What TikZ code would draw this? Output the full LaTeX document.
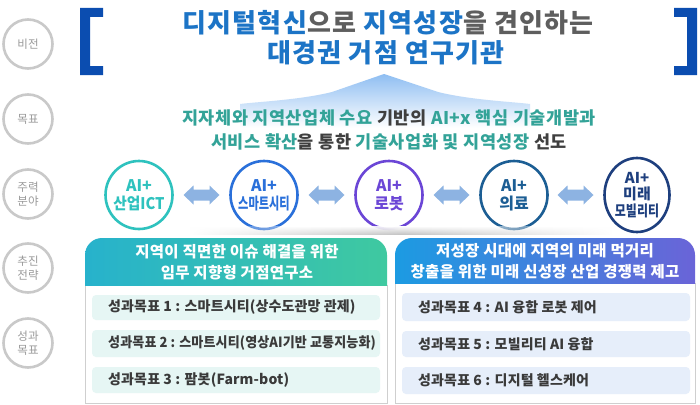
\documentclass[tikz,border=0pt]{standalone}
\usepackage{fontspec}
\setmainfont{Noto Sans CJK KR}
\usetikzlibrary{shapes.geometric,fadings,calc}
\definecolor{tblue}{HTML}{1C74C6}
\definecolor{tgray}{HTML}{5E5E5E}
\definecolor{brk}{HTML}{0B4DB0}
\definecolor{teal}{HTML}{33A398}
\definecolor{dark}{HTML}{3F3F3F}
\definecolor{cA}{HTML}{2EC2BE}
\definecolor{cB}{HTML}{2A70DA}
\definecolor{cC}{HTML}{6B46D6}
\definecolor{cD}{HTML}{1C5E94}
\definecolor{cE}{HTML}{1E3F7E}
\definecolor{arrowblue}{HTML}{8DB3E2}
\definecolor{sidegray}{HTML}{C9C9C9}
\definecolor{sidetext}{HTML}{9A9A9A}
\definecolor{hAL}{HTML}{27B2CC}
\definecolor{hAR}{HTML}{3FC9A0}
\definecolor{hBL}{HTML}{1C9BE2}
\definecolor{hBR}{HTML}{6A64D8}
\definecolor{itemA}{HTML}{E6F6F4}
\definecolor{itemB}{HTML}{E6EEFA}
\definecolor{bodyline}{HTML}{CFCFCF}
\definecolor{itemtext}{HTML}{3A3A3A}
\definecolor{uparrow}{HTML}{8FBEF2}
\tikzfading[name=fadesides, left color=transparent!100, right color=transparent!100, middle color=transparent!0]
\begin{document}
\begin{tikzpicture}[x=1pt,y=-1pt,
  sidecirc/.style={draw=sidegray, line width=2.6pt, circle, minimum size=49pt, inner sep=0pt,
    font=\fontsize{11.5}{13.5}\selectfont, text=sidetext, align=center},
  fieldc/.style={ellipse, line width=2.6pt, minimum width=67pt, minimum height=68pt, inner sep=0pt},
  fieldt/.style={align=center, inner sep=0pt, font=\fontsize{16}{18}\selectfont\bfseries},
  dblarrow/.pic={\fill[arrowblue] (-18,0) -- (-8,-9.5) -- (-8,-5.5) -- (8,-5.5) -- (8,-9.5) -- (18,0)
      -- (8,9.5) -- (8,5.5) -- (-8,5.5) -- (-8,9.5) -- cycle;},
  hdrtext/.style={text=white, font=\fontsize{15.5}{20.5}\selectfont\bfseries\addfontfeature{LetterSpace=2}, align=center},
  itemtxt/.style={anchor=west, text=itemtext, font=\fontsize{14}{16}\selectfont\bfseries\addfontfeature{LetterSpace=1}, inner sep=0pt}
]
\useasboundingbox (0,0) rectangle (700,404);
\fill[white] (0,0) rectangle (700,404);

% left column circles
\node[sidecirc] (s1) at (28,44) {비전};
\node[sidecirc] (s2) at (28,119) {목표};
\node[sidecirc] (s3) at (28,194) {주력\\분야};
\node[sidecirc] (s4) at (28,268) {추진\\전략};
\node[sidecirc] (s5) at (28,343) {성과\\목표};

% brackets
\fill[brk] (80,8) -- (103,8) -- (103,17) -- (90,17) -- (90,66) -- (103,66) -- (103,75) -- (80,75) -- cycle;
\fill[brk] (697,8) -- (674,8) -- (674,17) -- (687,17) -- (687,66) -- (674,66) -- (674,75) -- (697,75) -- cycle;

% upward arrow
\shade[top color=uparrow, bottom color=white]
  (384,74) -- (438,92) .. controls (470,100) and (515,102) .. (530,104) -- (530,128) -- (240,128) -- (240,104)
  .. controls (255,102) and (300,100) .. (332,92) -- cycle;

% title
\node[font=\fontsize{26}{30}\selectfont\bfseries\addfontfeature{LetterSpace=5}, inner sep=0pt] (t1) at (388,23)
  {\textcolor{tblue}{디지털혁신}\textcolor{tgray}{으로} \textcolor{tblue}{지역성장}\textcolor{tgray}{을 견인하는}};
\node[font=\fontsize{26}{30}\selectfont\bfseries\addfontfeature{LetterSpace=5}, inner sep=0pt, text=tblue] (t2) at (386,53)
  {대경권 거점 연구기관};

% goal text
\node[font=\fontsize{17.5}{20}\selectfont\bfseries\addfontfeature{LetterSpace=3}, inner sep=0pt] (g1) at (389,118)
  {\textcolor{teal}{지자체와 지역산업체 수요} \textcolor{dark}{기반의} \textcolor{teal}{AI+x 핵심 기술개발과}};
\node[font=\fontsize{17.5}{20}\selectfont\bfseries\addfontfeature{LetterSpace=3}, inner sep=0pt] (g2) at (389,142)
  {\textcolor{teal}{서비스 확산}\textcolor{dark}{을 통한} \textcolor{teal}{기술사업화 및 지역성장} \textcolor{dark}{선도}};

% field ellipses
\node[fieldc, draw=cA] (f1) at (139,195) {};
\node[fieldc, draw=cB] (f2) at (264,195) {};
\node[fieldc, draw=cC] (f3) at (389,195) {};
\node[fieldc, draw=cD] (f4) at (514,195) {};
\node[fieldc, draw=cE, minimum width=65pt, minimum height=74pt] (f5) at (637,195) {};
\node[fieldt, text=cA] (f1t) at (f1) {AI+\\\scalebox{0.92}[1]{산업ICT}};
\node[fieldt, text=cB] (f2t) at (f2) {AI+\\\scalebox{0.7}[1]{스마트시티}};
\node[fieldt, text=cC] (f3t) at (f3) {AI+\\로봇};
\node[fieldt, text=cD] (f4t) at (f4) {AI+\\의료};
\node[fieldt, text=cE, font=\fontsize{15}{16.5}\selectfont\bfseries] (f5t) at (f5) {AI+\\미래\\\scalebox{0.8}[1]{모빌리티}};

\coordinate (d1) at ($(f1)!0.5!(f2)$);
\coordinate (d2) at ($(f2)!0.5!(f3)$);
\coordinate (d3) at ($(f3)!0.5!(f4)$);
\coordinate (d4) at ($(f4)!0.5!(f5)$);
\pic at (d1) {dblarrow};
\pic at (d2) {dblarrow};
\pic at (d3) {dblarrow};
\pic at (d4) {dblarrow};

% shadow band
\shade[top color=white, bottom color=gray!45, path fading=fadesides] (190,226) rectangle (612,234);

% left panel
\draw[bodyline, line width=1pt, fill=white] (85,285) rectangle (387,403);
\begin{scope}
  \clip (84,237) rectangle (388,285);
  \shade[left color=hAL, right color=hAR, rounded corners=17pt] (85,238) rectangle (387,305);
\end{scope}
\node[hdrtext] (h1) at (237,262) {지역이 직면한 이슈 해결을 위한\\임무 지향형 거점연구소};
\fill[itemA, rounded corners=4pt] (92,295) rectangle (380,320);
\fill[itemA, rounded corners=4pt] (92,330) rectangle (380,357);
\fill[itemA, rounded corners=4pt] (92,367) rectangle (380,393);
\node[itemtxt] (i1) at (108,307.5) {성과목표 1 : 스마트시티(상수도관망 관제)};
\node[itemtxt] (i2) at (108,343.5) {\scalebox{0.93}[1]{성과목표 2 : 스마트시티(영상AI기반 교통지능화)}};
\node[itemtxt] (i3) at (108,380) {성과목표 3 : 팜봇(Farm-bot)};

% right panel
\draw[bodyline, line width=1pt, fill=white] (395,283) rectangle (695,403);
\begin{scope}
  \clip (394,237) rectangle (696,283);
  \shade[left color=hBL, right color=hBR, rounded corners=17pt] (395,238) rectangle (695,305);
\end{scope}
\node[hdrtext] (h2) at (545,261) {저성장 시대에 지역의 미래 먹거리\\창출을 위한 미래 신성장 산업 경쟁력 제고};
\fill[itemB, rounded corners=4pt] (402,293) rectangle (690,321);
\fill[itemB, rounded corners=4pt] (402,331) rectangle (690,357);
\fill[itemB, rounded corners=4pt] (402,367) rectangle (690,394);
\node[itemtxt] (i4) at (418,307) {성과목표 4 : AI 융합 로봇 제어};
\node[itemtxt] (i5) at (418,344) {성과목표 5 : 모빌리티 AI 융합};
\node[itemtxt] (i6) at (418,380.5) {성과목표 6 : 디지털 헬스케어};
\end{tikzpicture}
\end{document}
